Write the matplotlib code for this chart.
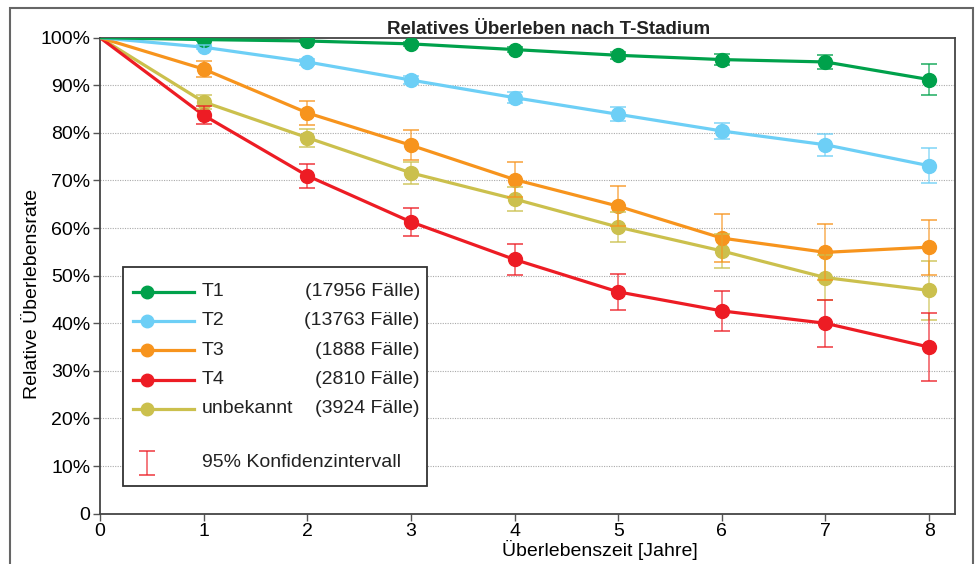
import matplotlib.pyplot as plt
from matplotlib.patches import Rectangle

plt.rcParams['font.family'] = ['Liberation Sans', 'DejaVu Sans']

# data
years = [0, 1, 2, 3, 4, 5, 6, 7, 8]
t1 = [100, 99.6, 99.3, 98.7, 97.5, 96.3, 95.4, 94.9, 91.2]
t1_err = [0, 0.2, 0.3, 0.4, 0.5, 0.7, 1.1, 1.5, 3.2]
t2 = [100, 98.0, 94.9, 91.1, 87.4, 83.9, 80.4, 77.5, 73.1]
t2_err = [0, 0.4, 0.6, 0.8, 1.1, 1.5, 1.7, 2.3, 3.7]
t3 = [100, 93.4, 84.2, 77.4, 70.2, 64.6, 57.9, 54.9, 56.0]
t3_err = [0, 1.6, 2.5, 3.1, 3.7, 4.2, 5.0, 5.9, 5.8]
t4 = [100, 83.7, 71.0, 61.3, 53.4, 46.6, 42.6, 40.0, 35.0]
t4_err = [0, 1.9, 2.5, 2.9, 3.3, 3.8, 4.2, 4.9, 7.2]
unk = [100, 86.5, 79.0, 71.6, 66.1, 60.2, 55.2, 49.6, 46.9]
unk_err = [0, 1.5, 1.9, 2.3, 2.6, 3.2, 3.6, 4.7, 6.2]

labels = ['T1', 'T2', 'T3', 'T4', 'unbekannt']
counts = ['(17956 Fälle)', '(13763 Fälle)', '(1888 Fälle)',
          '(2810 Fälle)', '(3924 Fälle)']
colors = ['#00A14B', '#6DCFF6', '#F7941D', '#ED1C24', '#CBC04D']
y_ticks = [0, 10, 20, 30, 40, 50, 60, 70, 80, 90, 100]
y_ticklabels = ['0'] + ['%d%%' % v for v in y_ticks[1:]]

series = [t1, t2, t3, t4, unk]
errors = [t1_err, t2_err, t3_err, t4_err, unk_err]

fig = plt.figure(figsize=(9.76, 5.64), dpi=100)
ax = fig.add_axes([0.1025, 0.0892, 0.876, 0.844])

ax.set_xlim(0, 8.25)
ax.set_ylim(0, 100)
ax.set_xticks(years)
ax.set_yticks(y_ticks)
ax.set_yticklabels(y_ticklabels)
ax.tick_params(labelsize=14, length=5, width=1, color='#555555', pad=2)
for g in y_ticks[1:-1]:
    ax.axhline(g, color='#aaaaaa', lw=0.8, ls=(0, (1, 1.2)), zorder=0)
for s in ax.spines.values():
    s.set_color('#444444')
    s.set_linewidth(1.3)

# lines from back to front
for i in reversed(range(len(series))):
    ax.plot(years, series[i], color=colors[i], lw=2.3, marker='o',
            markersize=10, markevery=slice(1, None), zorder=3 + 5 - i)
for i in reversed(range(len(series))):
    ax.errorbar(years[1:], series[i][1:], yerr=errors[i][1:], fmt='none',
                ecolor=colors[i], elinewidth=1.1, capsize=6, capthick=1.3,
                alpha=0.75, zorder=9)

ax.set_xlabel('Überlebenszeit [Jahre]', fontsize=14, labelpad=0)
ax.xaxis.set_label_coords(0.585, -0.055)
fig.text(0.033, 0.479, 'Relative Überlebensrate', fontsize=14,
         rotation=90, ha='center', va='center')
fig.text(0.397, 0.9406, 'Relatives Überleben nach T-Stadium',
         fontsize=13.5, fontweight='bold', ha='left', va='baseline',
         color='#222222')

# legend box built by hand (marker sits at the left of the handle)
ax.add_patch(Rectangle((0.0269, 0.0588), 0.356, 0.4588, transform=ax.transAxes,
                       facecolor='white', edgecolor='#333333', lw=1.3,
                       zorder=20))
row0, step = 0.4664, 0.0616
for i, lab in enumerate(labels):
    y = row0 - i * step
    ax.plot([0.0386, 0.110], [y, y], color=colors[i], lw=2.3,
            transform=ax.transAxes, zorder=21, clip_on=False)
    ax.plot([0.055], [y], 'o', color=colors[i], markersize=9,
            transform=ax.transAxes, zorder=22, clip_on=False)
    ax.text(0.119, y, lab, fontsize=14, va='center', ha='left',
            transform=ax.transAxes, zorder=22, color='#222222')
    ax.text(0.374, y, counts[i], fontsize=14, va='center', ha='right',
            transform=ax.transAxes, zorder=22, color='#222222')
ci_y = 0.1065
ax.errorbar([0.055], [ci_y], yerr=[0.026], fmt='none', ecolor='#ED1C24',
            elinewidth=1.1, capsize=6, capthick=1.3, alpha=0.75,
            transform=ax.transAxes, zorder=22, clip_on=False)
ax.text(0.119, ci_y, '95% Konfidenzintervall', fontsize=14, va='center',
        ha='left', transform=ax.transAxes, zorder=22, color='#222222')

# outer frame of the figure
fig.patches.append(Rectangle((10 / 976, -0.05), 963 / 976, 1.05 - 8 / 564,
                             transform=fig.transFigure, fill=False,
                             edgecolor='#666666', lw=1.5))

fig.savefig('out.png', dpi=100)
